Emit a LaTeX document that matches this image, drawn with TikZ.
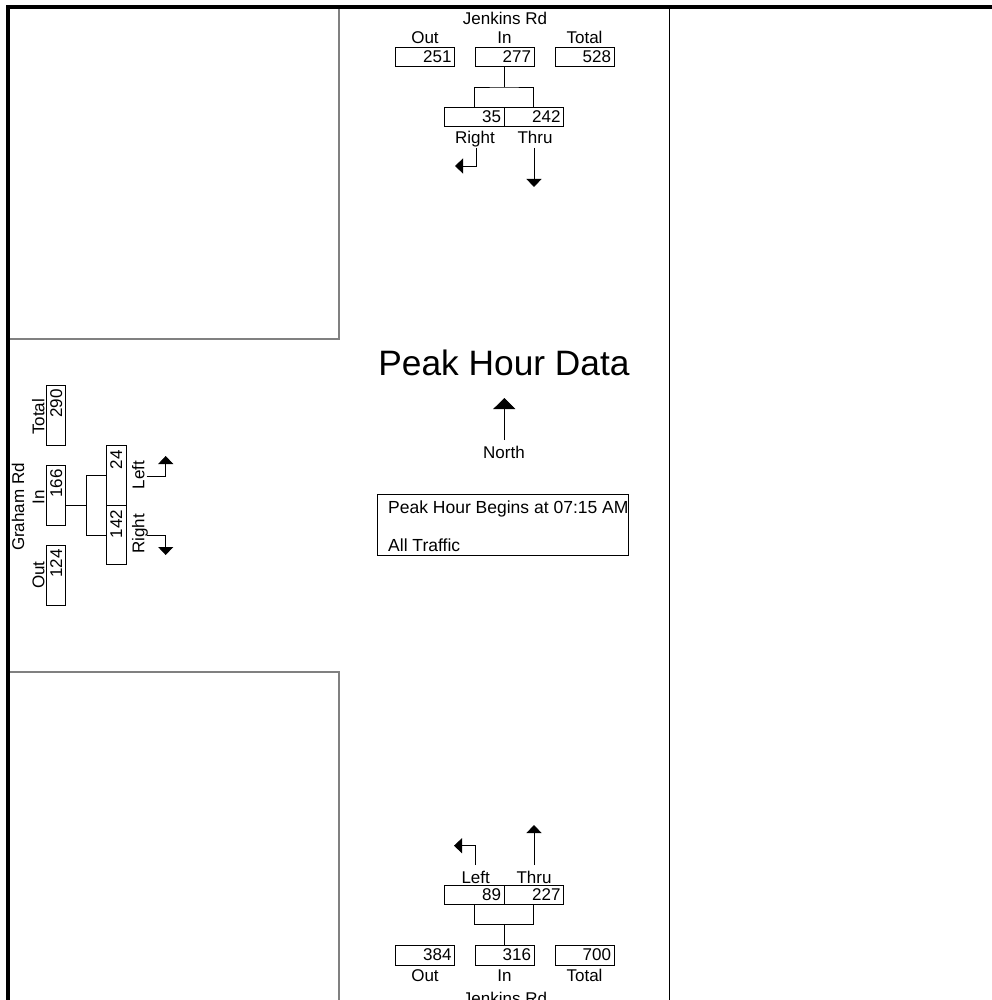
\documentclass[tikz,border=0pt]{standalone}
\usepackage{fontspec}
\setmainfont{Liberation Sans}
\usetikzlibrary{arrows.meta}
\newcommand\smf{\fontsize{17}{20}\selectfont}
\newcommand\midf{\fontsize{17.5}{20}\selectfont}
\newcommand\bigf{\fontsize{35.3}{40}\selectfont}
\begin{document}
\begin{tikzpicture}[x=1pt,y=-1pt,
  every node/.style={font=\smf},
  numbox/.style={draw,line width=0.8pt,minimum width=59pt,minimum height=19pt,inner ysep=0pt,inner xsep=3pt,text width=53pt,align=right},
  lanebox/.style={numbox,minimum width=59.5pt,text width=53.5pt},
  numboxv/.style={numbox,rotate=90,minimum width=60pt,text width=51pt,inner xsep=4.5pt},
  laneboxv/.style={numboxv,minimum width=59.5pt,text width=50.5pt,minimum height=19.3pt},
  lbl/.style={inner sep=0pt,anchor=base},
  lblv/.style={lbl,rotate=90},
  wire/.style={line width=0.8pt},
  turn/.style={line width=0.8pt,-{Triangle[width=15pt,length=8pt]}},
  framebar/.style={line width=4pt},
  blockline/.style={line width=1.2pt,gray}
]
\useasboundingbox (0,0) rectangle (991,1000);
% frame and blocks
\draw[framebar] (8,1004) -- (8,7) -- (995,7);
\draw[blockline] (10,339) -- (339,339) -- (339,9);
\draw[blockline] (10,672) -- (339,672) -- (339,1004);
\draw[wire] (669,9) -- (669,1004);

% ---------- north approach ----------
\node[lbl] (jnT) at (505,25) {Jenkins Rd};
\node[lbl] (outTl) at (425,44) {Out};
\node[lbl] (inTl) at (504.5,44) {In};
\node[lbl] (totTl) at (584.5,44) {Total};
\node[numbox] (outT) at (425,57) {251};
\node[numbox] (inT) at (504.5,57) {277};
\node[numbox] (totT) at (584.5,57) {528};
\coordinate (jT) at (504.5,87);
\node[lanebox] (rT) at (474.2,116.5) {35};
\node[lanebox] (thT) at (533.8,116.5) {242};
\draw[wire] (inT.south) -- (jT);
\draw[wire] (rT.north) |- (jT) -| (thT.north);
\node[lbl] (rTl) at (475,143.3) {Right};
\node[lbl] (thTl) at (535,143.3) {Thru};
\coordinate (rTa) at (476,148);
\coordinate (rTb) at (455,166);
\draw[turn] (rTa) |- (rTb);
\coordinate (thTa) at (534,148);
\coordinate (thTb) at (534,187);
\draw[turn] (thTa) -- (thTb);

% ---------- south approach ----------
\coordinate (lBa) at (475.7,865);
\coordinate (lBb) at (454,845.7);
\draw[turn] (lBa) |- (lBb);
\coordinate (thBa) at (534,865);
\coordinate (thBb) at (534,825);
\draw[turn] (thBa) -- (thBb);
\node[lbl] (lBl) at (475.7,883) {Left};
\node[lbl] (thBl) at (534,883) {Thru};
\node[lanebox] (lB) at (474.2,894.7) {89};
\node[lanebox] (thB) at (533.8,894.7) {227};
\coordinate (jB) at (504.5,924.3);
\node[numbox,minimum height=20pt] (outB) at (425,955) {384};
\node[numbox,minimum height=20pt] (inB) at (504.5,955) {316};
\node[numbox,minimum height=20pt] (totB) at (584.5,955) {700};
\draw[wire] (lB.south) |- (jB) -| (thB.south);
\draw[wire] (jB) -- (inB.north);
\node[lbl] (outBl) at (425,981.7) {Out};
\node[lbl] (inBl) at (504.5,981.7) {In};
\node[lbl] (totBl) at (584.5,981.7) {Total};
\node[lbl] (jnB) at (505,1004) {Jenkins Rd};

% ---------- west approach ----------
\node[lblv] (gnL) at (24,507) {Graham Rd};
\node[lblv] (totLl) at (44.3,417) {Total};
\node[lblv] (inLl) at (44.3,497) {In};
\node[lblv] (outLl) at (44.3,575) {Out};
\node[numboxv] (totL) at (56.2,415) {290};
\node[numboxv] (inL) at (56.2,495) {166};
\node[numboxv] (outL) at (56.2,575) {124};
\node[laneboxv] (lL) at (116.3,475.5) {24};
\node[laneboxv] (rL) at (116.3,535) {142};
\coordinate (jL) at (86.7,505.7);
\draw[wire] (inL.south |- jL) -- (jL);
\draw[wire] (lL.north) -| (jL) |- (rL.north);
\node[lblv] (lLl) at (144.3,475) {Left};
\node[lblv] (rLl) at (144.3,534) {Right};
\coordinate (lLa) at (146.7,476);
\coordinate (lLb) at (165.7,456);
\draw[turn] (lLa) -| (lLb);
\coordinate (rLa) at (146.7,535.7);
\coordinate (rLb) at (165.7,555);
\draw[turn] (rLa) -| (rLb);

% ---------- centre ----------
\node[lbl,font=\bigf] (title) at (504,375) {Peak Hour Data};
\coordinate (nA) at (504.3,440);
\coordinate (nB) at (504.3,398);
\draw[line width=0.8pt,-{Triangle[width=22pt,length=11pt]}] (nA) -- (nB);
\node[lbl] (north) at (504,458) {North};
\node[draw,line width=0.8pt,minimum width=251.5pt,minimum height=61pt,inner sep=0pt] (info) at (502.75,524.5) {};
\node[lbl,anchor=base west,font=\midf] (info1) at (388,513) {Peak Hour Begins at 07:15 AM};
\node[lbl,anchor=base west,font=\midf] (info2) at (388,551.5) {All Traffic};
\end{tikzpicture}
\end{document}
